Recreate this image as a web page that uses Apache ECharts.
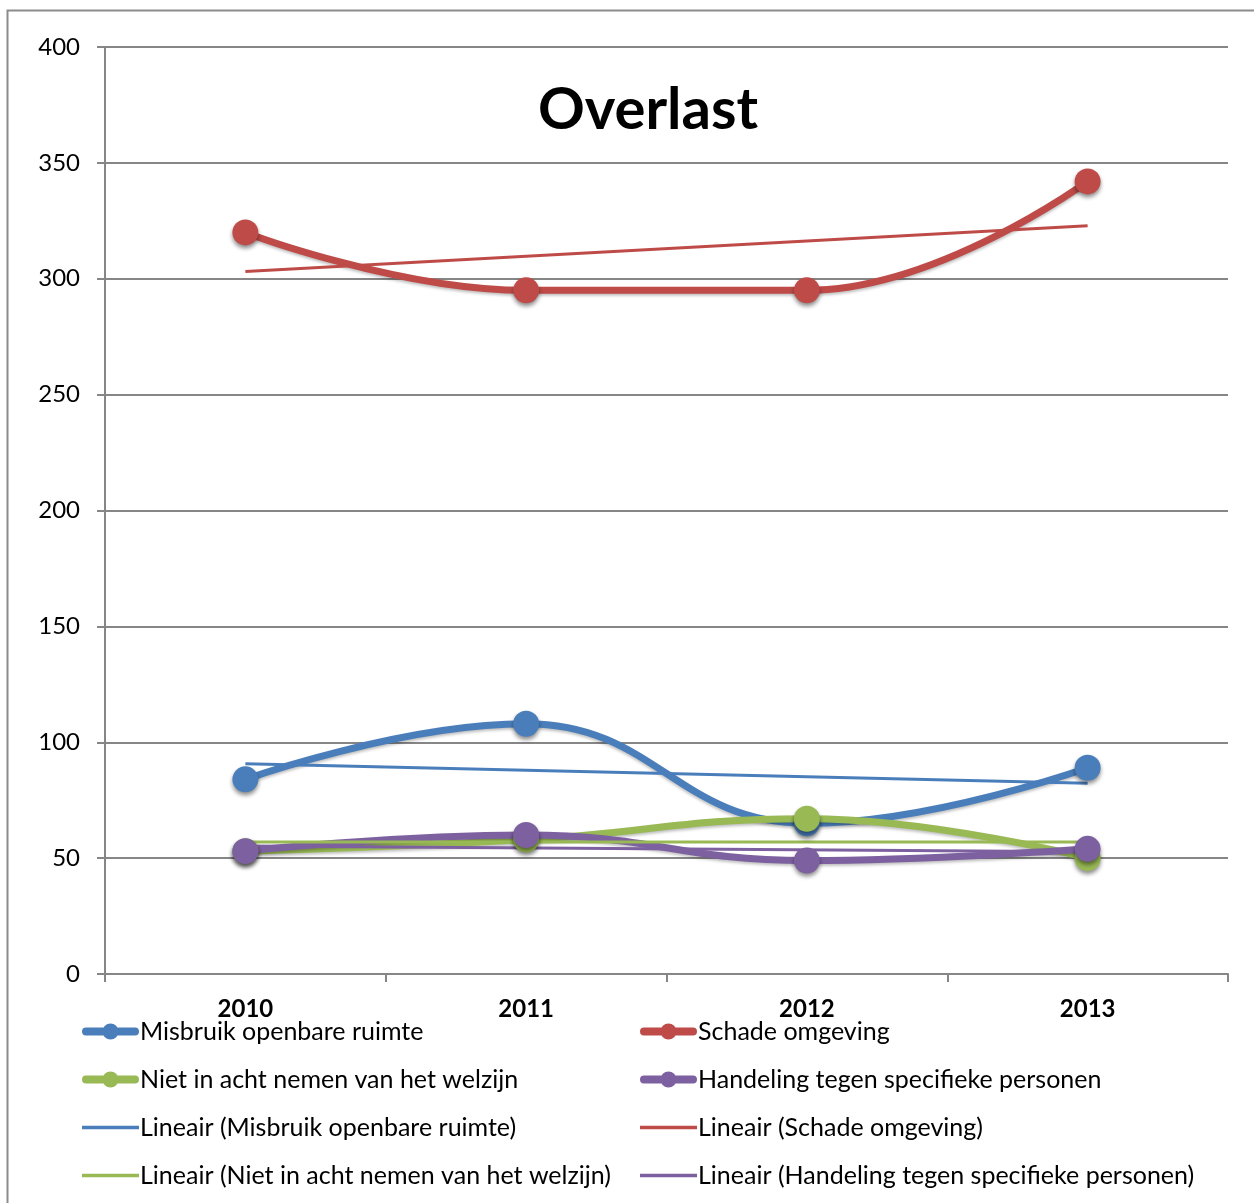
<!DOCTYPE html>
<html>
<head>
<meta charset="utf-8">
<script src="https://cdn.jsdelivr.net/npm/echarts@6/dist/echarts.min.js"></script>
<style>
  html, body { margin: 0; padding: 0; background: #fff; }
  #chart { width: 1254px; height: 1203px; }
</style>
</head>
<body>
<div id="chart"></div>
<script>
var years = ['2010', '2011', '2012', '2013']
var misbruik = [84, 108, 65, 89]
var schade = [320, 295, 295, 342]
var welzijn = [53, 58, 67, 50]
var handeling = [53, 60, 49, 54]
var trendMisbruik = [90.7, null, null, 82.3]
var trendSchade = [303.1, null, null, 322.9]
var trendWelzijn = [57, null, null, 57]
var trendHandeling = [55.2, null, null, 52.8]
var yTicks = [0, 400, 50]

var BLUE = '#4A7EBB'
var RED = '#BE4B48'
var GREEN = '#98B954'
var PURPLE = '#7D60A0'
var FONT = 'Lato, "Open Sans", sans-serif'

// legend icons: thick line with dot, and thin line
var ICON_DOT = 'path://M4,4 L53,4 A4,4 0 0 1 53,12 L4,12 A4,4 0 0 1 4,4 Z M20.5,8 A8,8 0 1 1 36.5,8 A8,8 0 1 1 20.5,8 Z'
var ICON_LINE = 'path://M0,0 L55,0 L55,3.5 L0,3.5 Z'

function mainSeries(name, data, color) {
  return {
    name: name,
    type: 'line',
    data: data,
    smooth: 0.45,
    symbol: 'circle',
    symbolSize: 26,
    lineStyle: { width: 7, color: color, shadowColor: 'rgba(0,0,0,0.25)', shadowBlur: 3, shadowOffsetY: 2 },
    itemStyle: { color: color, shadowColor: 'rgba(0,0,0,0.45)', shadowBlur: 4, shadowOffsetY: 3 },
    emphasis: { disabled: true }
  }
}

function trendSeries(name, data, color) {
  return {
    name: name,
    type: 'line',
    data: data,
    connectNulls: true,
    symbol: 'none',
    lineStyle: { width: 3, color: color },
    itemStyle: { color: color },
    emphasis: { disabled: true }
  }
}

var chart = echarts.init(document.getElementById('chart'))

var legendBase = {
  orient: 'vertical',
  top: 1019,
  height: 184,
  padding: 0,
  itemWidth: 57,
  itemHeight: 17,
  itemGap: 23,
  symbolKeepAspect: true,
  textStyle: { fontFamily: FONT, fontSize: 25, color: '#000', padding: [0, 0, 0, -4] }
}

function legendItems(names) {
  return names.map(function (n, i) {
    return { name: n, icon: i < 2 ? ICON_DOT : ICON_LINE }
  })
}

var option = {
  backgroundColor: '#fff',
  animation: false,
  title: {
    text: 'Overlast',
    left: 538,
    top: 81,
    padding: 0,
    textStyle: { fontFamily: FONT, fontSize: 58, fontWeight: 'bold', color: '#000' }
  },
  graphic: [{
    type: 'rect',
    shape: { x: 7.5, y: 10.5, width: 1280, height: 1240 },
    style: { fill: 'none', stroke: '#8c8c8c', lineWidth: 2 },
    silent: true
  }],
  grid: { left: 105, right: 26, top: 47, bottom: 229, containLabel: false },
  legend: [
    Object.assign({}, legendBase, {
      left: 82,
      data: legendItems(['Misbruik openbare ruimte', 'Niet in acht nemen van het welzijn',
        'Lineair (Misbruik openbare ruimte)', 'Lineair (Niet in acht nemen van het welzijn)'])
    }),
    Object.assign({}, legendBase, {
      left: 640,
      data: legendItems(['Schade omgeving', 'Handeling tegen specifieke personen',
        'Lineair (Schade omgeving)', 'Lineair (Handeling tegen specifieke personen)'])
    })
  ],
  xAxis: {
    type: 'category',
    data: years,
    boundaryGap: true,
    axisLine: { lineStyle: { color: '#868686', width: 2 } },
    axisTick: { show: true, length: 8, lineStyle: { color: '#868686', width: 2 } },
    axisLabel: { fontFamily: FONT, fontSize: 24, fontWeight: 'bold', color: '#000', margin: 23 }
  },
  yAxis: {
    type: 'value',
    min: yTicks[0],
    max: yTicks[1],
    interval: yTicks[2],
    axisLine: { show: true, lineStyle: { color: '#868686', width: 2 } },
    axisTick: { show: true, length: 8, lineStyle: { color: '#868686', width: 2 } },
    splitLine: { lineStyle: { color: '#868686', width: 2 } },
    axisLabel: { fontFamily: FONT, fontSize: 24, color: '#000', margin: 25 }
  },
  series: [
    mainSeries('Misbruik openbare ruimte', misbruik, BLUE),
    mainSeries('Schade omgeving', schade, RED),
    mainSeries('Niet in acht nemen van het welzijn', welzijn, GREEN),
    mainSeries('Handeling tegen specifieke personen', handeling, PURPLE),
    trendSeries('Lineair (Misbruik openbare ruimte)', trendMisbruik, BLUE),
    trendSeries('Lineair (Schade omgeving)', trendSchade, RED),
    trendSeries('Lineair (Niet in acht nemen van het welzijn)', trendWelzijn, GREEN),
    trendSeries('Lineair (Handeling tegen specifieke personen)', trendHandeling, PURPLE)
  ]
}

chart.setOption(option)
</script>
</body>
</html>
